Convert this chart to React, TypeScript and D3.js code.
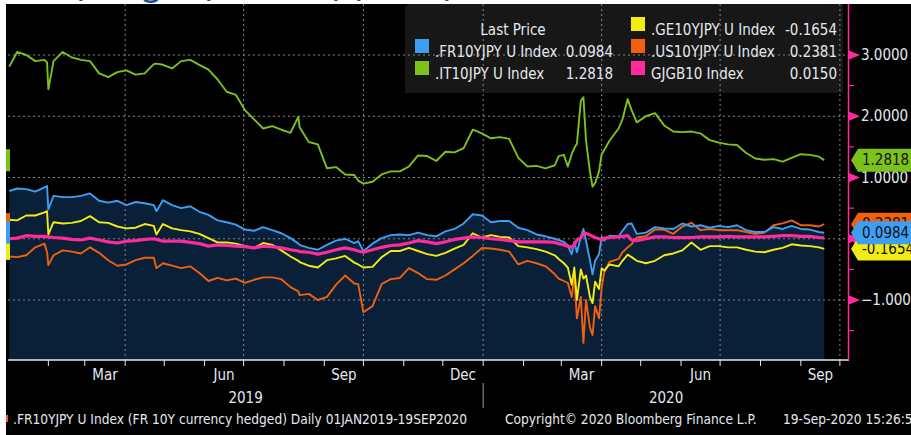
import React from "react";
import * as d3 from "d3";

// ---------- DATA ----------
const dates = [
  // 2019
  "2019-01-02","2019-01-08","2019-01-15","2019-01-22","2019-01-29","2019-01-31",
  "2019-02-01","2019-02-05","2019-02-12","2019-02-19","2019-02-26",
  "2019-03-05","2019-03-12","2019-03-19","2019-03-26",
  "2019-04-02","2019-04-09","2019-04-16","2019-04-23","2019-04-25","2019-04-30",
  "2019-05-07","2019-05-14","2019-05-21","2019-05-28",
  "2019-06-04","2019-06-11","2019-06-18","2019-06-25",
  "2019-07-02","2019-07-09","2019-07-16","2019-07-23","2019-07-30",
  "2019-08-06","2019-08-12","2019-08-13","2019-08-20","2019-08-27",
  "2019-09-03","2019-09-10","2019-09-17","2019-09-24","2019-09-27",
  "2019-10-01","2019-10-08","2019-10-15","2019-10-22","2019-10-29",
  "2019-11-05","2019-11-12","2019-11-19","2019-11-26",
  "2019-12-03","2019-12-10","2019-12-17","2019-12-24","2019-12-31",
  // 2020
  "2020-01-07","2020-01-14","2020-01-21","2020-01-28",
  "2020-02-04","2020-02-11","2020-02-18","2020-02-25","2020-02-28",
  "2020-03-03","2020-03-06","2020-03-09","2020-03-11","2020-03-13","2020-03-16",
  "2020-03-18","2020-03-20","2020-03-23","2020-03-25","2020-03-27","2020-03-30",
  "2020-04-01","2020-04-03","2020-04-07","2020-04-14","2020-04-17","2020-04-21","2020-04-24","2020-04-28",
  "2020-05-05","2020-05-12","2020-05-19","2020-05-26",
  "2020-06-02","2020-06-09","2020-06-16","2020-06-23","2020-06-30",
  "2020-07-07","2020-07-14","2020-07-21","2020-07-28",
  "2020-08-04","2020-08-11","2020-08-18","2020-08-25",
  "2020-09-01","2020-09-08","2020-09-15","2020-09-19",
];

const frValues = [
  0.78, 0.82, 0.81, 0.77, 0.84, 0.86,
  0.48, 0.7, 0.68, 0.68, 0.7,
  0.74, 0.62, 0.59, 0.62,
  0.55, 0.6, 0.58, 0.55, 0.45, 0.63,
  0.55, 0.5, 0.53, 0.44,
  0.39, 0.3, 0.27, 0.23,
  0.15, 0.13, 0.19, 0.14, 0.09,
  0.01, -0.08, -0.1, -0.15, -0.18,
  -0.1, -0.03, 0.0, -0.07, -0.04,
  -0.2, -0.08, 0.01, 0.06, 0.07,
  0.06, 0.1, 0.06, 0.04,
  0.12, 0.16, 0.25, 0.4, 0.38,
  0.27, 0.29, 0.29, 0.18,
  0.14, 0.07, 0.04, 0.0, -0.02,
  -0.05, -0.11, -0.25, -0.05, -0.22, 0.03, 0.16, -0.03, -0.35, -0.58, -0.36, -0.25,
  0.03, -0.03, 0.05, 0.04, 0.13, 0.24, 0.25, 0.08,
  0.1, 0.19, 0.17, 0.16,
  0.25, 0.2, 0.22, 0.18, 0.21,
  0.19, 0.22, 0.14, 0.11,
  0.11, 0.19, 0.16, 0.21,
  0.16, 0.15, 0.11, 0.0984,
];

const itValues = [
  2.81, 3.05, 3.0, 2.9, 2.92, 2.88,
  2.44, 2.9, 3.05, 2.96, 2.92,
  2.9, 2.7, 2.64, 2.72,
  2.75, 2.68, 2.7, 2.85, 2.86, 2.84,
  2.78, 2.9, 2.92, 2.84,
  2.76, 2.6, 2.4, 2.35,
  2.1, 1.95, 1.8, 1.84, 1.78,
  1.73, 1.99, 1.82, 1.58, 1.54,
  1.15, 1.17, 1.05, 1.04, 0.95,
  0.9, 0.93, 1.05, 1.1, 1.1,
  1.18, 1.36, 1.35, 1.27,
  1.42, 1.41, 1.48, 1.78, 1.72,
  1.64, 1.66, 1.63, 1.32,
  1.18, 1.19, 1.15, 1.2, 1.35,
  1.37, 1.18, 1.38, 1.48, 1.55, 2.25, 2.31, 1.6, 1.1, 0.85, 0.91, 1.1,
  1.38, 1.45, 1.6, 1.8, 1.95, 2.28, 2.1, 1.9,
  2.0, 2.05, 1.85, 1.75,
  1.74, 1.75, 1.72, 1.61, 1.57,
  1.54, 1.53, 1.4, 1.31,
  1.29, 1.3, 1.26, 1.32,
  1.38, 1.37, 1.34, 1.2818,
];

const geValues = [
  0.31, 0.3, 0.38, 0.38, 0.43, 0.45,
  0.07, 0.27, 0.25, 0.26, 0.29,
  0.37, 0.27, 0.26, 0.2,
  0.17, 0.18, 0.24, 0.21, 0.07, 0.24,
  0.17, 0.14, 0.12, 0.08,
  0.01, -0.06, -0.06, -0.08,
  -0.12, -0.15, -0.07, -0.1, -0.19,
  -0.29, -0.36, -0.38, -0.44, -0.47,
  -0.35, -0.32, -0.28, -0.39, -0.42,
  -0.47, -0.46, -0.3, -0.2, -0.2,
  -0.15, -0.2, -0.25, -0.28,
  -0.23, -0.16, -0.1, 0.09, 0.02,
  0.06, 0.03, 0.02, -0.12,
  -0.14, -0.17, -0.21, -0.27, -0.33,
  -0.4, -0.47, -0.75, -0.47, -1.0, -0.5, -0.65, -0.6, -0.95, -1.05, -0.7, -0.82,
  -0.48, -0.52, -0.42, -0.45, -0.36, -0.26, -0.3, -0.36,
  -0.4, -0.36, -0.27, -0.24,
  -0.19, -0.06, -0.18, -0.12, -0.12,
  -0.14, -0.14, -0.18, -0.21,
  -0.22, -0.18, -0.15, -0.09,
  -0.11, -0.12, -0.14, -0.1654,
];

const usValues = [
  -0.29, -0.3, -0.27, -0.14, -0.08, -0.22,
  -0.43, -0.27, -0.19, -0.21, -0.24,
  -0.14, -0.23, -0.35, -0.44,
  -0.42, -0.35, -0.31, -0.31, -0.48, -0.4,
  -0.44, -0.48, -0.45, -0.56,
  -0.69, -0.64, -0.68, -0.65,
  -0.72, -0.67, -0.63, -0.63, -0.66,
  -0.79, -0.86, -0.92, -0.9, -1.0,
  -0.95, -0.75, -0.6, -0.73, -0.74,
  -1.2, -1.1, -0.74, -0.66, -0.64,
  -0.48, -0.56, -0.66, -0.67,
  -0.6, -0.5, -0.4, -0.28, -0.15,
  -0.16, -0.18, -0.21, -0.42,
  -0.36, -0.4, -0.45, -0.58, -0.65,
  -0.69, -0.72, -0.95, -0.6, -1.3, -0.95, -1.7, -1.0, -1.45, -1.57, -1.1, -1.3,
  -0.8, -0.55, -0.38, -0.33, -0.22, -0.14, -0.09, 0.02,
  0.04, 0.15, 0.15, 0.08,
  0.2, 0.26, 0.14, 0.16, 0.14,
  0.14, 0.14, 0.11, 0.08,
  0.1, 0.22, 0.25, 0.3,
  0.22, 0.22, 0.2, 0.2381,
];

const jgbValues = [
  0.0, 0.01, 0.05, 0.04, 0.04, 0.03,
  0.03, 0.02, 0.01, -0.01, -0.02,
  0.01, -0.02, -0.05, -0.07,
  -0.04, -0.03, -0.01, 0.0, -0.01, -0.04,
  -0.04, -0.04, -0.06, -0.08,
  -0.12, -0.1, -0.11, -0.12,
  -0.13, -0.15, -0.12, -0.13, -0.15,
  -0.18, -0.2, -0.21, -0.22, -0.25,
  -0.22, -0.18, -0.15, -0.18, -0.2,
  -0.22, -0.18, -0.14, -0.11, -0.1,
  -0.07, -0.03, -0.05, -0.08,
  -0.05, -0.01, 0.01, 0.03, 0.02,
  0.0, -0.01, -0.03, -0.05,
  -0.05, -0.05, -0.05, -0.06, -0.08,
  -0.1, -0.12, -0.14, -0.1, -0.02, 0.02, 0.08, 0.09, 0.06, 0.04, 0.02, 0.0,
  -0.02, 0.01, 0.02, 0.03, 0.04, 0.05, -0.02, -0.03,
  0.0, 0.03, 0.03, 0.02,
  0.02, 0.02, 0.03, 0.03, 0.03,
  0.04, 0.03, 0.03, 0.03,
  0.03, 0.04, 0.05, 0.05,
  0.04, 0.04, 0.02, 0.015,
];

const seriesNames = [".FR10YJPY U Index", ".IT10JPY U Index", ".GE10YJPY U Index", ".US10YJPY U Index", "GJGB10 Index"];
const lastPrices = ["0.0984", "1.2818", "-0.1654", "0.2381", "0.0150"];
const seriesColors = ["#3d9ff2", "#7cc21a", "#f2ec12", "#f0600e", "#ff2a9c"];

const yTicks = [3, 2, 1, 0, -1];
const yMinorTicks = [2.5, 1.5, 0.5, -0.5, -1.5];
const monthLabelDates = ["2019-03-01", "2019-06-01", "2019-09-01", "2019-12-01", "2020-03-01", "2020-06-01", "2020-09-01"];
const monthLabelTexts = ["Mar", "Jun", "Sep", "Dec", "Mar", "Jun", "Sep"];
const yearLabels = ["2019", "2020"];

const footerLeft = ".FR10YJPY U Index (FR 10Y currency hedged)  Daily 01JAN2019-19SEP2020";
const footerMid = "Copyright\u00A9 2020 Bloomberg Finance L.P.";
const footerRight = "19-Sep-2020 15:26:50";

// ---------- LAYOUT ----------
const W = 911;
const H = 435;
const PL = 8;
const PR = 849;
const PT = 4;
const PB = 360;
const FONT = "'DejaVu Sans Condensed','Liberation Sans Narrow','DejaVu Sans',sans-serif";
const TXT = "#e4e8ee";
const FS = 15;

const parse = d3.timeParse("%Y-%m-%d");

export default function App() {
  const dts = dates.map((s) => parse(s) as Date);
  const x = d3.scaleTime().domain([new Date(2019, 0, 1), new Date(2020, 9, 8)]).range([PL, PR]);
  const y = d3.scaleLinear().domain([-1, 3]).range([300, 55]);

  const all = [frValues, itValues, geValues, usValues, jgbValues];
  const line = d3.line<number>().x((_, i) => x(dts[i])).y((v) => y(v));
  const area = d3.area<number>().x((_, i) => x(dts[i])).y0(PB).y1((v) => y(v));

  const months = d3.timeMonth.range(new Date(2019, 1, 1), new Date(2020, 10, 1));
  const quarters = months.filter((m) => m.getMonth() % 3 === 0);
  const yearStart = new Date(2020, 0, 1);

  const lastVals = all.map((a) => a[a.length - 1]);
  // tag draw order: pink (hidden), orange, yellow, blue, green
  const tagOrder = [4, 3, 2, 0, 1];

  const tagPath = (cy: number) =>
    `M851,${cy} L858,${cy - 11.5} L${W},${cy - 11.5} L${W},${cy + 11.5} L858,${cy + 11.5} Z`;

  const legendLeft = [0, 1];
  const legendRight = [2, 3, 4];

  return (
    <svg width={W} height={H} style={{ position: "absolute", left: 0, top: 0, display: "block" }}
      fontFamily={FONT}>
      <rect x={0} y={0} width={W} height={H} fill="#ffffff" />
      {/* cut-off title strip */}
      <g fill="#1f4d8c" fontFamily="'Open Sans',sans-serif" fontWeight={600} fontSize={30}>
        <text x={74} y={-4}>(</text>
        <text x={143} y={-4}>g</text>
        <text x={206} y={-4}>),</text>
        <text x={329} y={-4}>(</text>
        <text x={356} y={-4}>)</text>
        <text x={444} y={-4}>)</text>
      </g>
      <rect x={6} y={PT} width={W - 6} height={H - PT} fill="#000000" />

      {/* FR area fill */}
      <path d={area(frValues) || ""} fill="#0a2039" />

      {/* legend background */}
      <path d={`M405,${PT + 6} Q405,${PT} 411,${PT} L843,${PT} L843,93 L405,93 Z`} fill="#1a1a1a" opacity={0.9} />

      {/* gridlines */}
      <g stroke="#858585" strokeWidth={1} strokeDasharray="2 3">
        {yTicks.map((t) => (
          <line key={"h" + t} x1={PL} x2={PR - 1} y1={y(t)} y2={y(t)} />
        ))}
        {quarters.map((q) => (
          <line key={"v" + q.getTime()} x1={x(q)} x2={x(q)} y1={PT} y2={PB} />
        ))}
      </g>

      {/* series lines */}
      {[1, 3, 2, 0, 4].map((si) => (
        <path key={si} d={line(all[si]) || ""} fill="none" stroke={seriesColors[si]}
          strokeWidth={si === 4 ? 3.2 : 1.9} strokeLinejoin="round" />
      ))}

      {/* bottom axis */}
      <line x1={PL} x2={PR} y1={PB} y2={PB} stroke="#e8e8e8" strokeWidth={1.5} />
      {months.map((m) => (
        <line key={"t" + m.getTime()} x1={x(m)} x2={x(m)} y1={PB} y2={PB + 6} stroke="#e8e8e8" strokeWidth={1} />
      ))}
      {monthLabelDates.map((s, i) => {
        const a = parse(s) as Date;
        const b = d3.timeMonth.offset(a, 1);
        return (
          <text key={"ml" + i} x={(x(a) + x(b)) / 2} y={380} fill={TXT} fontSize={FS} textAnchor="middle">
            {monthLabelTexts[i]}
          </text>
        );
      })}
      <text x={(PL + x(yearStart)) / 2} y={403} fill={TXT} fontSize={FS} textAnchor="middle">{yearLabels[0]}</text>
      <text x={(x(yearStart) + PR) / 2} y={403} fill={TXT} fontSize={FS} textAnchor="middle">{yearLabels[1]}</text>
      <line x1={x(yearStart)} x2={x(yearStart)} y1={383} y2={408} stroke="#9a9a9a" strokeWidth={1} />

      {/* right axis */}
      <line x1={848.5} x2={848.5} y1={PT} y2={PB} stroke="#ff2a9c" strokeWidth={1.5} />
      {yMinorTicks.map((t) => (
        <line key={"mt" + t} x1={848} x2={854} y1={y(t)} y2={y(t)} stroke="#ff2a9c" strokeWidth={1.2} />
      ))}
      {yTicks.map((t) => (
        <g key={"yt" + t}>
          <path d={`M849,${y(t) - 4.5} L860,${y(t)} L849,${y(t) + 4.5} Z`} fill="#ff2a9c" />
          {t !== 0 && (
            <text x={861} y={y(t) + 5} fill={TXT} fontSize={FS}>{d3.format(".4f")(t)}</text>
          )}
        </g>
      ))}

      {/* last value tags, right and left edges */}
      {tagOrder.map((si) => {
        const cy = y(lastVals[si]);
        return (
          <g key={"tag" + si}>
            <path d={tagPath(cy)} fill={seriesColors[si]} />
            {si !== 4 && (
              <text x={862} y={cy + 5} fill="#111111" fontSize={FS}>{lastPrices[si]}</text>
            )}
            <rect x={6} y={cy - 11} width={4} height={22} fill={seriesColors[si]} />
          </g>
        );
      })}

      {/* legend */}
      <text x={513} y={35} fill={TXT} fontSize={FS} textAnchor="middle">Last Price</text>
      {legendLeft.map((si, r) => (
        <g key={"ll" + si}>
          <rect x={415} y={39 + r * 22} width={14} height={14} fill={seriesColors[si]} />
          <text x={435} y={57 + r * 22} fill={TXT} fontSize={FS}>{seriesNames[si]}</text>
          <text x={613} y={57 + r * 22} fill={TXT} fontSize={FS} textAnchor="end">{lastPrices[si]}</text>
        </g>
      ))}
      {legendRight.map((si, r) => (
        <g key={"lr" + si}>
          <rect x={631} y={17 + r * 22} width={14} height={14} fill={seriesColors[si]} />
          <text x={651} y={35 + r * 22} fill={TXT} fontSize={FS}>{seriesNames[si]}</text>
          <text x={837} y={35 + r * 22} fill={TXT} fontSize={FS} textAnchor="end">{lastPrices[si]}</text>
        </g>
      ))}

      {/* footer */}
      <rect x={6} y={415} width={2} height={7} fill="#f0600e" />
      <text x={13} y={424} fill={TXT} fontSize={13.6}>{footerLeft}</text>
      <text x={505} y={424} fill={TXT} fontSize={13.6}>{footerMid}</text>
      <text x={783} y={424} fill={TXT} fontSize={13.6}>{footerRight}</text>
    </svg>
  );
}
